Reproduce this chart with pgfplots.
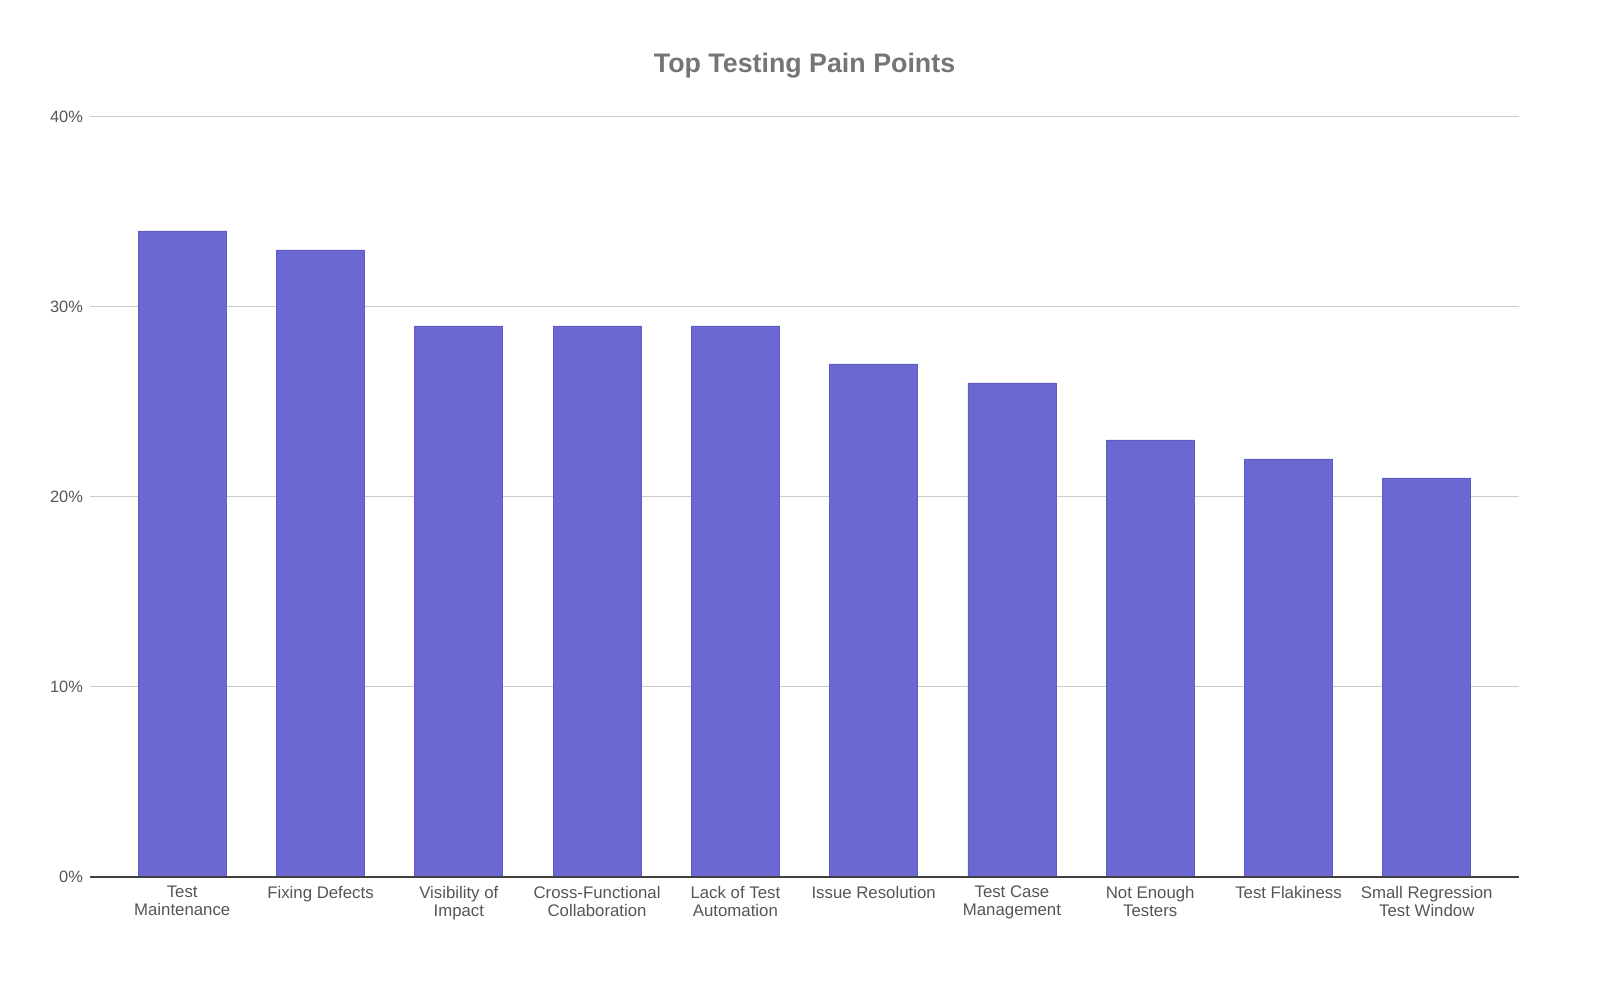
\documentclass[border=0pt]{standalone}
\usepackage{pgfplots}
\pgfplotsset{compat=1.18}
\usepackage{fontspec}
\setmainfont{Liberation Sans}
\definecolor{barfill}{HTML}{6B69D1}
\definecolor{baredge}{HTML}{5E5CC9}
\definecolor{gridc}{HTML}{CCCCCC}
\definecolor{labc}{HTML}{555555}
\definecolor{titc}{HTML}{757575}
\begin{document}
\begin{tikzpicture}
\begin{axis}[
  at={(0,0)}, anchor=south west,
  scale only axis,
  width=714.5pt, height=380pt,
  xmin=-0.667, xmax=9.667,
  ymin=0, ymax=40,
  ybar, bar width=44pt, bar shift=0pt,
  axis line style={draw=none},
  ytick={0,10,20,30,40},
  yticklabels={0\%,10\%,20\%,30\%,40\%},
  xtick={0,...,9},
  xticklabels={Test\\Maintenance, Fixing Defects, Visibility of\\Impact, Cross-Functional\\Collaboration, Lack of Test\\Automation, Issue Resolution, Test Case\\Management, Not Enough\\Testers, Test Flakiness, Small Regression\\Test Window},
  xticklabel style={align=center, font=\fontsize{8.4pt}{9pt}\selectfont, text=labc, anchor=north, yshift=-1pt},
  yticklabel style={font=\fontsize{8.2pt}{9pt}\selectfont, text=labc},
  major tick length=0pt,
  ymajorgrids, grid style={gridc, line width=0.5pt},
  clip=false,
]
\addplot[fill=barfill, draw=baredge, line width=0.4pt] coordinates {
 (0,34) (1,33) (2,29) (3,29) (4,29) (5,27) (6,26) (7,23) (8,22) (9,21)};
\draw[black!75, line width=0.6pt] (axis cs:-0.667,0) -- (axis cs:9.667,0);
\end{axis}
\node[font=\bfseries\fontsize{13.4pt}{15pt}\selectfont, text=titc] at (357.25pt,405.5pt) {Top Testing Pain Points};
\pgfresetboundingbox
\path[use as bounding box] (-45pt,-55.5pt) rectangle (755pt,438.5pt);
\end{tikzpicture}
\end{document}
